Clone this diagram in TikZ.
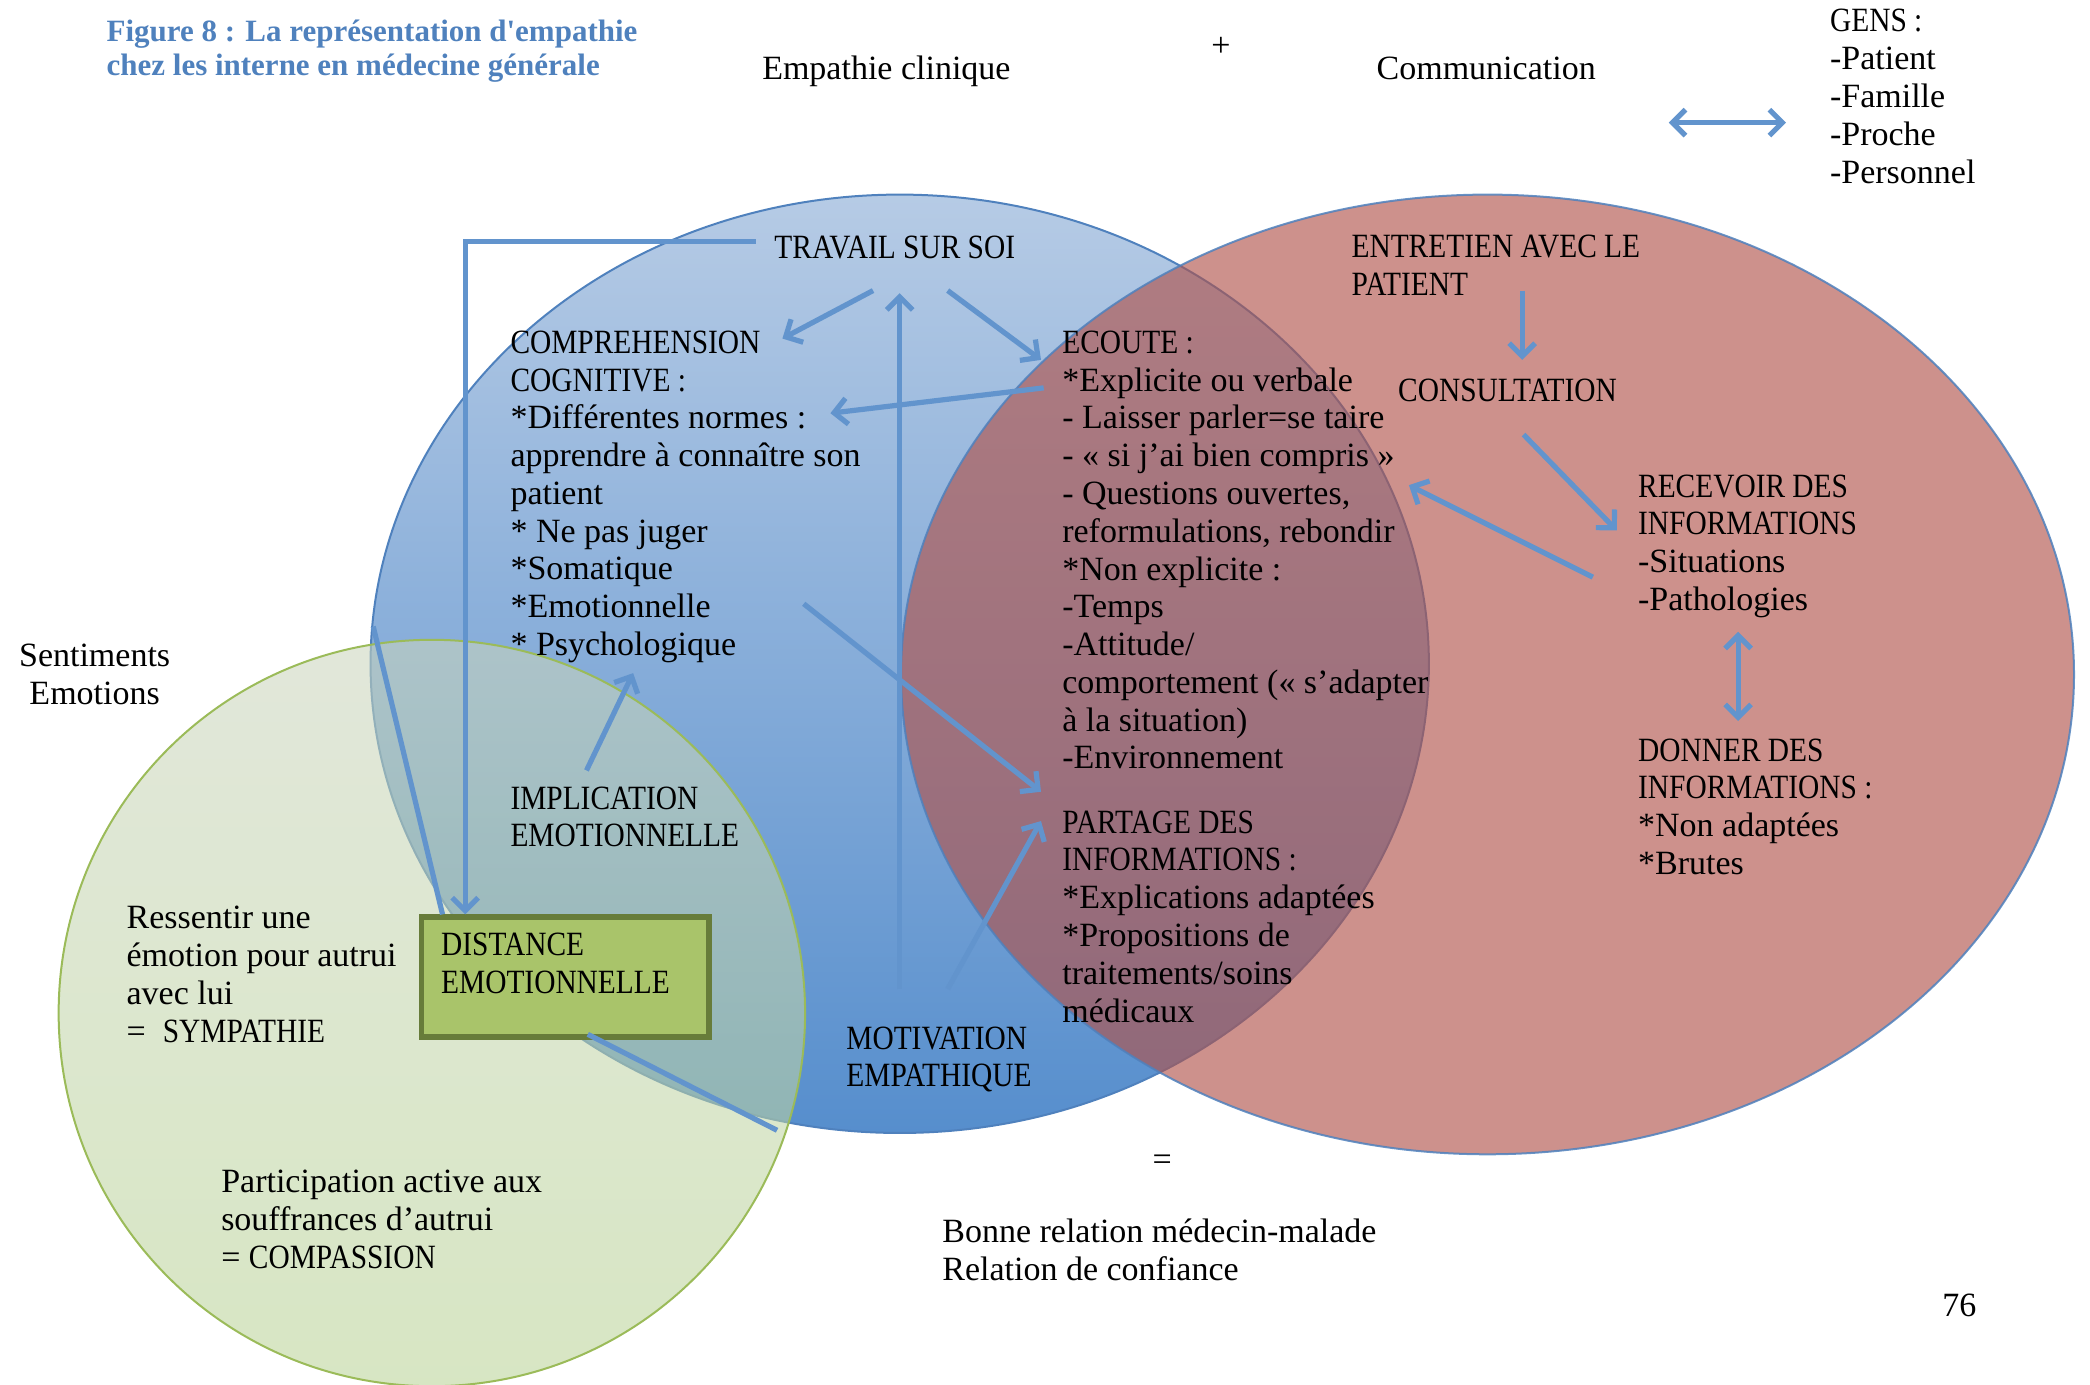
\documentclass[tikz,border=0pt]{standalone}
\usepackage{fontspec}
\setmainfont{Liberation Serif}
\newfontfamily\capsfont[FakeStretch=0.865]{Liberation Serif}
\newfontfamily\titlefont[Ligatures=TeXOff]{Liberation Serif}
\usetikzlibrary{arrows.meta}
\definecolor{arrowblue}{RGB}{98,148,205}
\definecolor{titleblue}{RGB}{79,129,189}
\definecolor{edgeblue}{RGB}{79,129,189}
\definecolor{bluetop}{RGB}{182,203,229}
\definecolor{bluebot}{RGB}{86,142,205}
\definecolor{redfill}{RGB}{176,82,74}
\definecolor{greentop}{RGB}{202,213,189}
\definecolor{greenbot}{RGB}{184,211,148}
\definecolor{greenedge}{RGB}{155,187,89}
\definecolor{boxfill}{RGB}{169,196,106}
\definecolor{boxedge}{RGB}{103,124,58}
\newcommand{\cps}[1]{{\capsfont #1}}
\begin{document}
\begin{tikzpicture}[x=0.66667pt,y=-0.66667pt,
  txt/.style={inner sep=0pt, outer sep=0pt, anchor=base west, align=left, font=\fontsize{17}{18.9}\selectfont},
  ctxt/.style={txt, anchor=base, align=center},
  conn/.style={draw=arrowblue, line width=2.6pt},
  arr/.style={conn, -{Straight Barb[length=6.5pt,width=13pt]}},
  darr/.style={conn, {Straight Barb[length=6.5pt,width=13pt]}-{Straight Barb[length=6.5pt,width=13pt]}},
]
\useasboundingbox (0,0) rectangle (1568,1039);
% circles
\shade[top color=bluetop, bottom color=bluebot] (675,498) ellipse [x radius=397, y radius=352];
\draw[edgeblue, line width=1pt] (675,498) ellipse [x radius=397, y radius=352];
\path[fill=redfill, fill opacity=0.635, draw=edgeblue, draw opacity=0.85, line width=1pt] (1116,506) ellipse [x radius=440, y radius=360];
\shade[top color=greentop, bottom color=greenbot, opacity=0.56] (324,760) circle [radius=280];
\draw[greenedge, line width=1pt] (324,760) circle [radius=280];
% box
\node (distbox) [draw=boxedge, fill=boxfill, line width=2.6pt, inner sep=0pt, minimum width=144pt, minimum height=60pt, anchor=north west] at (314,686) {};

% texts (anchor = baseline of the LAST line)
\node[txt, font=\fontsize{15.5}{17.3}\selectfont\titlefont\bfseries, text=titleblue] (title) at (80,57) {Figure 8 : La représentation d'empathie\\chez les interne en médecine générale};
\node[ctxt] (empathie) at (665,60) {Empathie clinique};
\node[txt, anchor=center] (plus) at (916,35) {+};
\node[ctxt] (comm) at (1115,60) {Communication};
\node[txt] (gens) at (1373,137.4) {\cps{GENS :}\\-Patient\\-Famille\\-Proche\\-Personnel};
\node[txt] (travail) at (581,194) {\cps{TRAVAIL SUR SOI}};
\node[txt] (compr) at (383,491.8) {\cps{COMPREHENSION}\\\cps{COGNITIVE :}\\*Différentes normes :\\apprendre à connaître son\\patient\\* Ne pas juger\\*Somatique\\*Emotionnelle\\* Psychologique};
\node[txt] (ecoute) at (797,576.9) {\cps{ECOUTE :}\\*Explicite ou verbale\\- Laisser parler=se taire\\- « si j’ai bien compris »\\- Questions ouvertes,\\reformulations, rebondir\\*Non explicite :\\-Temps\\-Attitude/\\comportement (« s’adapter\\à la situation)\\-Environnement};
\node[txt] (partage) at (797,766.8) {\cps{PARTAGE DES}\\\cps{INFORMATIONS :}\\*Explications adaptées\\*Propositions de\\traitements/soins\\médicaux};
\node[txt] (entretien) at (1014,221.4) {\cps{ENTRETIEN AVEC LE}\\\cps{PATIENT}};
\node[txt] (consult) at (1049,301) {\cps{CONSULTATION}};
\node[txt] (recevoir) at (1229,458) {\cps{RECEVOIR DES}\\\cps{INFORMATIONS}\\-Situations\\-Pathologies};
\node[txt] (donner) at (1229,656) {\cps{DONNER DES}\\\cps{INFORMATIONS :}\\*Non adaptées\\*Brutes};
\node[ctxt] (sentiments) at (71,528.4) {Sentiments\\Emotions};
\node[txt] (implication) at (383,635.4) {\cps{IMPLICATION}\\\cps{EMOTIONNELLE}};
\node[txt] (ressentir) at (95,782) {Ressentir une\\émotion pour autrui\\avec lui\\=\ \ \cps{SYMPATHIE}};
\node[txt] (distance) at (331,745.4) {\cps{DISTANCE}\\\cps{EMOTIONNELLE}};
\node[txt] (motivation) at (635,815.4) {\cps{MOTIVATION}\\\cps{EMPATHIQUE}};
\node[txt] (particip) at (166,951.7) {Participation active aux\\souffrances d’autrui\\= \cps{COMPASSION}};
\node[txt, anchor=center] (egal) at (872,872) {=};
\node[txt] (bonne) at (707,960.4) {Bonne relation médecin-malade\\Relation de confiance};
\node[txt, anchor=center] (page) at (1470,979) {76};

% connector end points
\coordinate (tA) at (655,218); \coordinate (cA) at (587,254);
\coordinate (tB) at (711,218); \coordinate (eB) at (781,270);
\coordinate (mC) at (675,742); \coordinate (tC) at (675,220);
\coordinate (eD) at (783,291); \coordinate (cD) at (623,310);
\coordinate (cE) at (603,453); \coordinate (pE) at (781,594);
\coordinate (mF) at (711,742); \coordinate (pF) at (781,616);
\coordinate (iG) at (440,578); \coordinate (cG) at (475,505);
\coordinate (bH0) at (567,181); \coordinate (bH1) at (349,181); \coordinate (bH2) at (349,686);
\coordinate (lI0) at (280,470); \coordinate (lI1) at (332,686);
\coordinate (lJ0) at (441,776); \coordinate (lJ1) at (583,848);
\coordinate (eK) at (1142,218); \coordinate (cK) at (1142,270);
\coordinate (cL) at (1143,326); \coordinate (rL) at (1213,398);
\coordinate (rM) at (1195,433); \coordinate (eM) at (1057,364);
\coordinate (rN) at (1304,474); \coordinate (dN) at (1304,541);
\coordinate (gO0) at (1252,92); \coordinate (gO1) at (1340,92);

\draw[arr] (tA) -- (cA);
\draw[arr] (tB) -- (eB);
\draw[arr] (mC) -- (tC);
\draw[arr] (eD) -- (cD);
\draw[arr] (cE) -- (pE);
\draw[arr] (mF) -- (pF);
\draw[arr] (iG) -- (cG);
\draw[arr] (bH0) -- (bH1) -- (bH2);
\draw[conn] (lI0) -- (lI1);
\draw[conn] (lJ0) -- (lJ1);
\draw[arr] (eK) -- (cK);
\draw[arr] (cL) -- (rL);
\draw[arr] (rM) -- (eM);
\draw[darr] (rN) -- (dN);
\draw[darr] (gO0) -- (gO1);
\end{tikzpicture}
\end{document}
